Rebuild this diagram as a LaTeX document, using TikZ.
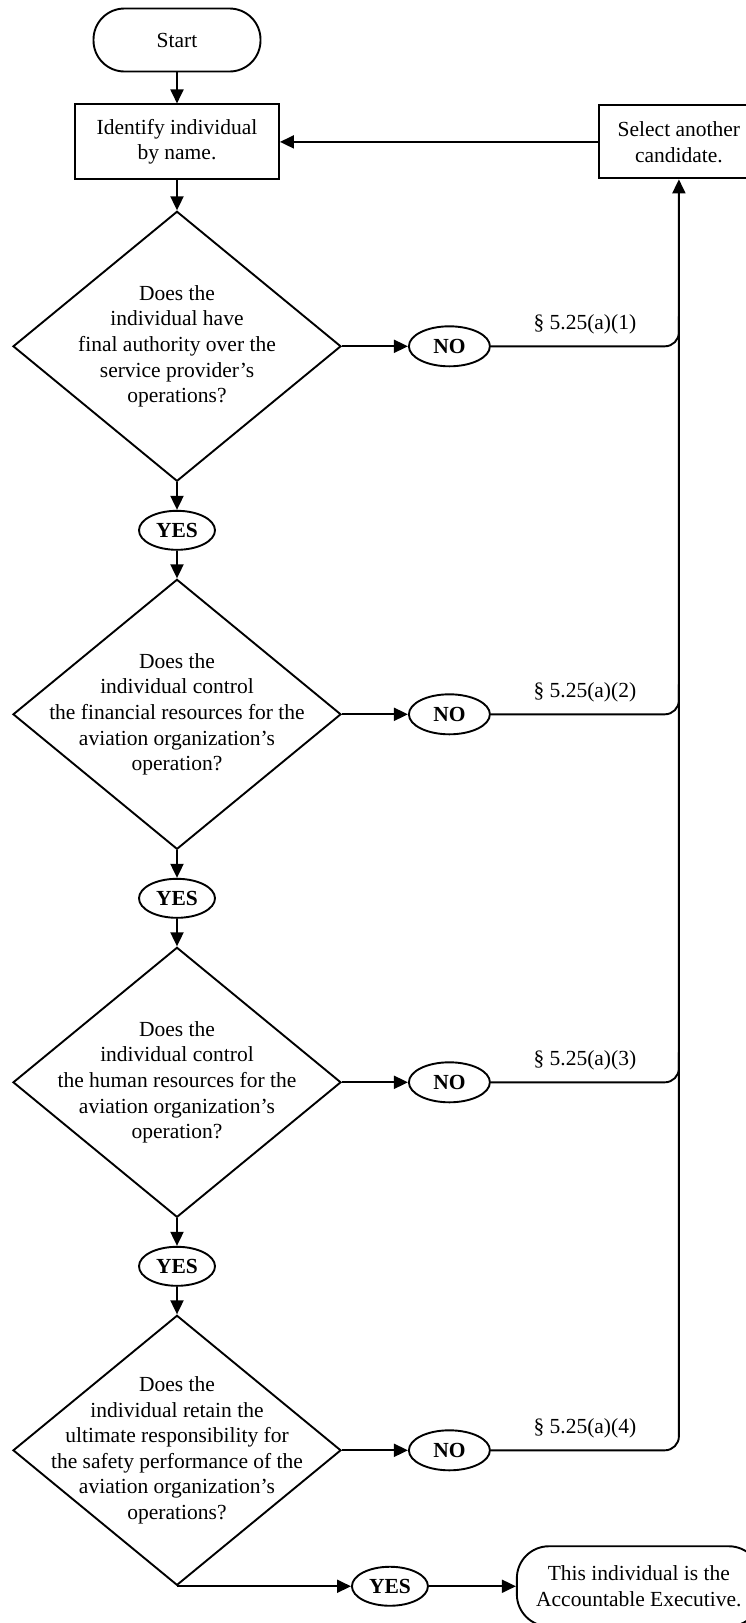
\documentclass[tikz,border=0pt]{standalone}
\usepackage{fontspec}
\setmainfont{Liberation Serif}
\usetikzlibrary{positioning,shapes.geometric,arrows.meta}

\begin{document}
\begin{tikzpicture}[
    x=1pt, y=-1pt,
    line width=1.9pt,
    node distance=27.6pt,
    every node/.style={font=\fontsize{21.5}{25.6}\selectfont, outer sep=0.95pt},
    term/.style={draw, rectangle, rounded corners=31pt, align=center, minimum width=167pt, minimum height=63pt},
    proc/.style={draw, rectangle, align=center, minimum height=75pt},
    decide/.style={draw, diamond, inner sep=0pt, minimum width=328pt, minimum height=270pt},
    qtext/.style={align=center, inner sep=0pt},
    ans/.style={draw, ellipse, inner sep=0pt, minimum width=76pt, minimum height=39pt,
        font=\fontsize{21.5}{25.6}\selectfont\bfseries},
    flow/.style={-{Triangle[length=14pt,width=13pt]}},
    back/.style={rounded corners=14pt},
    sect/.style={midway, above=9pt, inner sep=2pt}
]
    \fill[white] (0,0) rectangle (746,1623);
    \useasboundingbox (0,0) rectangle (746,1623);

    \node[term] (startnode) at (177,40) {Start};
    \node[proc, minimum width=204pt, below=31pt of startnode] (idnode) {Identify individual\\by name.};
    \node[proc, minimum width=160pt, minimum height=73pt, right=318pt of idnode] (selnode) {Select another\\candidate.};

    % questions down the main column
    \node[decide, below=30pt of idnode] (qanode) {};
    \node[qtext] (qatext) at (qanode) {Does the\\individual have\\final authority over the\\service provider’s\\operations?};
    \node[ans, below=of qanode] (yesa) {YES};

    \node[decide, below=of yesa] (qbnode) {};
    \node[qtext] (qbtext) at (qbnode) {Does the\\individual control\\the financial resources for the\\aviation organization’s\\operation?};
    \node[ans, below=of qbnode] (yesb) {YES};

    \node[decide, below=of yesb] (qcnode) {};
    \node[qtext] (qctext) at (qcnode) {Does the\\individual control\\the human resources for the\\aviation organization’s\\operation?};
    \node[ans, below=of qcnode] (yesc) {YES};

    \node[decide, below=of yesc] (qdnode) {};
    \node[qtext] (qdtext) at (qdnode) {Does the\\individual retain the\\ultimate responsibility for\\the safety performance of the\\aviation organization’s\\operations?};
    \node[ans, right=174pt of qdnode.south] (yesd) {YES};
    \node[term, rounded corners=32pt, minimum width=244pt, minimum height=80pt, right=87pt of yesd] (endnode) {This individual is the\\Accountable Executive.};

    % NO answers
    \node[ans, minimum width=81pt, minimum height=40pt, right=66pt of qanode] (noa) {NO};
    \node[ans, minimum width=81pt, minimum height=40pt, right=66pt of qbnode] (nob) {NO};
    \node[ans, minimum width=81pt, minimum height=40pt, right=66pt of qcnode] (noc) {NO};
    \node[ans, minimum width=81pt, minimum height=40pt, right=66pt of qdnode] (nod) {NO};

    \draw[flow] (startnode) -- (idnode);
    \draw[flow] (idnode) -- (qanode);
    \draw[flow] (qanode) -- (yesa);
    \draw[flow] (yesa) -- (qbnode);
    \draw[flow] (qbnode) -- (yesb);
    \draw[flow] (yesb) -- (qcnode);
    \draw[flow] (qcnode) -- (yesc);
    \draw[flow] (yesc) -- (qdnode);
    \draw[flow] (qdnode.south) -- (yesd);
    \draw[flow] (yesd) -- (endnode);

    \draw[flow] (qanode) -- (noa);
    \draw[flow] (qbnode) -- (nob);
    \draw[flow] (qcnode) -- (noc);
    \draw[flow] (qdnode) -- (nod);

    % back to a new candidate
    \draw[back] (noa) -- node[sect] {§ 5.25(a)(1)} (noa -| selnode) -- ++(0,-30);
    \draw[back] (nob) -- node[sect] {§ 5.25(a)(2)} (nob -| selnode) -- ++(0,-30);
    \draw[back] (noc) -- node[sect] {§ 5.25(a)(3)} (noc -| selnode) -- ++(0,-30);
    \draw[back, flow] (nod) -- node[sect] {§ 5.25(a)(4)} (nod -| selnode) -- (selnode);
    \draw[flow] (selnode) -- (idnode);
\end{tikzpicture}
\end{document}
